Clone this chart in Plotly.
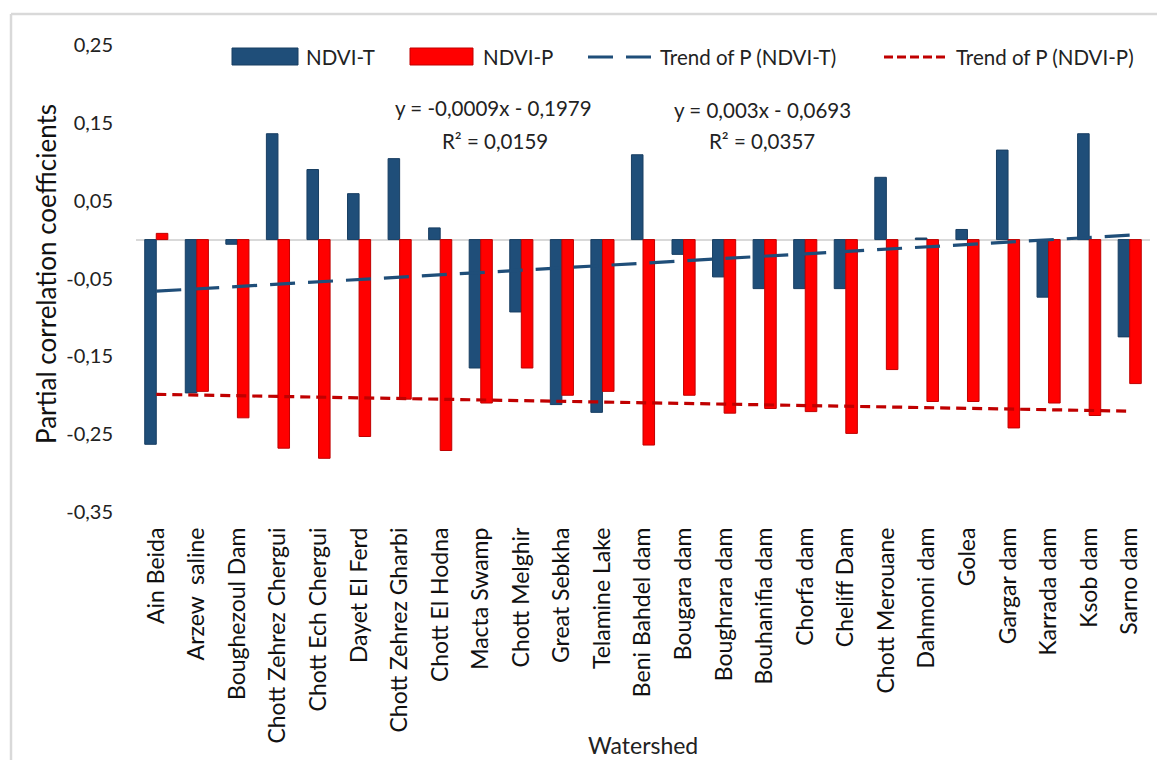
import plotly.graph_objects as go

# Watersheds and partial correlation coefficients
watersheds = [
    "Ain Beida", "Arzew  saline", "Boughezoul Dam", "Chott Zehrez Chergui",
    "Chott Ech Chergui", "Dayet El Ferd", "Chott Zehrez Gharbi", "Chott El Hodna",
    "Macta Swamp", "Chott Melghir", "Great Sebkha", "Telamine Lake",
    "Beni Bahdel dam", "Bougara dam", "Boughrara dam", "Bouhanifia dam",
    "Chorfa dam", "Cheliff Dam", "Chott Merouane", "Dahmoni dam", "Golea",
    "Gargar dam", "Karrada dam", "Ksob dam", "Sarno dam",
]
ndvi_t = [
    -0.263, -0.197, -0.006, 0.136, 0.090, 0.059, 0.104, 0.015,
    -0.165, -0.093, -0.212, -0.222, 0.109, -0.019, -0.048, -0.063,
    -0.063, -0.063, 0.080, 0.002, 0.013, 0.115, -0.074, 0.136, -0.125,
]
ndvi_p = [
    0.008, -0.195, -0.229, -0.268, -0.281, -0.253, -0.205, -0.271,
    -0.210, -0.165, -0.200, -0.195, -0.264, -0.200, -0.223, -0.217,
    -0.221, -0.249, -0.167, -0.208, -0.208, -0.242, -0.210, -0.226, -0.185,
]
y_ticks = [0.25, 0.15, 0.05, -0.05, -0.15, -0.25, -0.35]

# Linear trend coefficients (slope, intercept) as reported on the chart
trend_t = (0.003, -0.0693)
trend_p = (-0.0009, -0.1979)

idx = list(range(1, len(watersheds) + 1))
trend_t_y = [trend_t[0] * i + trend_t[1] for i in idx]
trend_p_y = [trend_p[0] * i + trend_p[1] for i in idx]

BLUE = "#1f4e79"
BLUE_EDGE = "#183e62"
RED = "#ff0000"
RED_EDGE = "#c00000"
TREND_BLUE = "#1f4e79"
TREND_RED = "#c00000"
FONT = "Lato, 'Open Sans', sans-serif"

W, H = 1157, 760
L, R, T, B = 136, 7, 45, 248
PW, PH = W - L - R, H - T - B


def px(x):
    return (x - L) / PW


def py(y):
    return (T + PH - y) / PH


fig = go.Figure()
fig.add_trace(go.Bar(x=watersheds, y=ndvi_t, name="NDVI-T", marker_color=BLUE,
                     marker_line=dict(color=BLUE_EDGE, width=1)))
fig.add_trace(go.Bar(x=watersheds, y=ndvi_p, name="NDVI-P", marker_color=RED,
                     marker_line=dict(color=RED_EDGE, width=1)))
fig.add_trace(go.Scatter(x=watersheds, y=trend_t_y, mode="lines", name="Trend of P (NDVI-T)",
                         line=dict(color=TREND_BLUE, width=3.2, dash="25px,13px")))
fig.add_trace(go.Scatter(x=watersheds, y=trend_p_y, mode="lines", name="Trend of P (NDVI-P)",
                         line=dict(color=TREND_RED, width=3.2, dash="10px,6px")))

shapes = []
annotations = []

# outer frame (top and left edges)
shapes.append(dict(type="line", xref="paper", yref="paper", x0=px(11), x1=px(W + 5),
                   y0=py(14), y1=py(14), line=dict(color="#d9d9d9", width=2.5)))
shapes.append(dict(type="line", xref="paper", yref="paper", x0=px(11), x1=px(11),
                   y0=py(14), y1=py(H + 5), line=dict(color="#d9d9d9", width=2.5)))

# legend row
leg_y = 57
shapes.append(dict(type="rect", xref="paper", yref="paper", x0=px(232), x1=px(298),
                   y0=py(65), y1=py(48), fillcolor=BLUE, line=dict(color=BLUE_EDGE, width=1)))
shapes.append(dict(type="rect", xref="paper", yref="paper", x0=px(410), x1=px(473),
                   y0=py(65), y1=py(48), fillcolor=RED, line=dict(color=RED_EDGE, width=1)))
shapes.append(dict(type="line", xref="paper", yref="paper", x0=px(588), x1=px(652),
                   y0=py(leg_y), y1=py(leg_y),
                   line=dict(color=TREND_BLUE, width=3.2, dash="25px,13px")))
shapes.append(dict(type="line", xref="paper", yref="paper", x0=px(884), x1=px(948),
                   y0=py(leg_y), y1=py(leg_y),
                   line=dict(color=TREND_RED, width=3.2, dash="9px,4px")))
for text, xl in [("NDVI-T", 304), ("NDVI-P", 481),
                 ("Trend of P (NDVI-T)", 658), ("Trend of P (NDVI-P)", 954)]:
    annotations.append(dict(text=text, xref="paper", yref="paper", x=px(xl), y=py(leg_y),
                            xanchor="left", yanchor="middle", showarrow=False,
                            font=dict(family=FONT, size=20.5, color="#222")))

# trend equations
for text, xc, yc in [("y = -0,0009x - 0,1979", 493, 108), ("R² = 0,0159", 495, 141),
                     ("y = 0,003x - 0,0693", 762, 110), ("R² = 0,0357", 762, 141)]:
    annotations.append(dict(text=text, xref="paper", yref="paper", x=px(xc), y=py(yc),
                            xanchor="center", yanchor="middle", showarrow=False,
                            font=dict(family=FONT, size=20.5, color="#222")))

# axis titles
annotations.append(dict(text="Partial correlation coefficients", xref="paper", yref="paper",
                        x=px(46), y=py(274), textangle=-90, showarrow=False,
                        xanchor="center", yanchor="middle",
                        font=dict(family=FONT, size=26, color="#111")))
annotations.append(dict(text="Watershed", xref="paper", yref="paper",
                        x=px(643), y=py(745), showarrow=False,
                        xanchor="center", yanchor="middle",
                        font=dict(family=FONT, size=23, color="#222")))

fig.update_layout(
    width=W, height=H,
    margin=dict(l=L, r=R, t=T, b=B, autoexpand=False),
    paper_bgcolor="white", plot_bgcolor="white",
    barmode="group", bargap=0.43, bargroupgap=0.0,
    showlegend=False,
    shapes=shapes, annotations=annotations,
    font=dict(family=FONT, color="#111"),
)
fig.update_xaxes(
    type="category", tickangle=-90, showgrid=False, showline=False, ticks="",
    tickfont=dict(family=FONT, size=23, color="#111"), ticklabelstandoff=10,
    range=[-0.5, len(watersheds) - 0.5], fixedrange=True,
)
fig.update_yaxes(
    range=[-0.35, 0.25], tickvals=y_ticks,
    ticktext=[f"{v:.2f}".replace(".", ",") for v in y_ticks],
    showgrid=False, showline=False, ticks="",
    zeroline=True, zerolinecolor="#d9d9d9", zerolinewidth=2,
    tickfont=dict(family=FONT, size=20, color="#222"), ticklabelstandoff=22,
    fixedrange=True,
)

fig.write_html("out.html")
